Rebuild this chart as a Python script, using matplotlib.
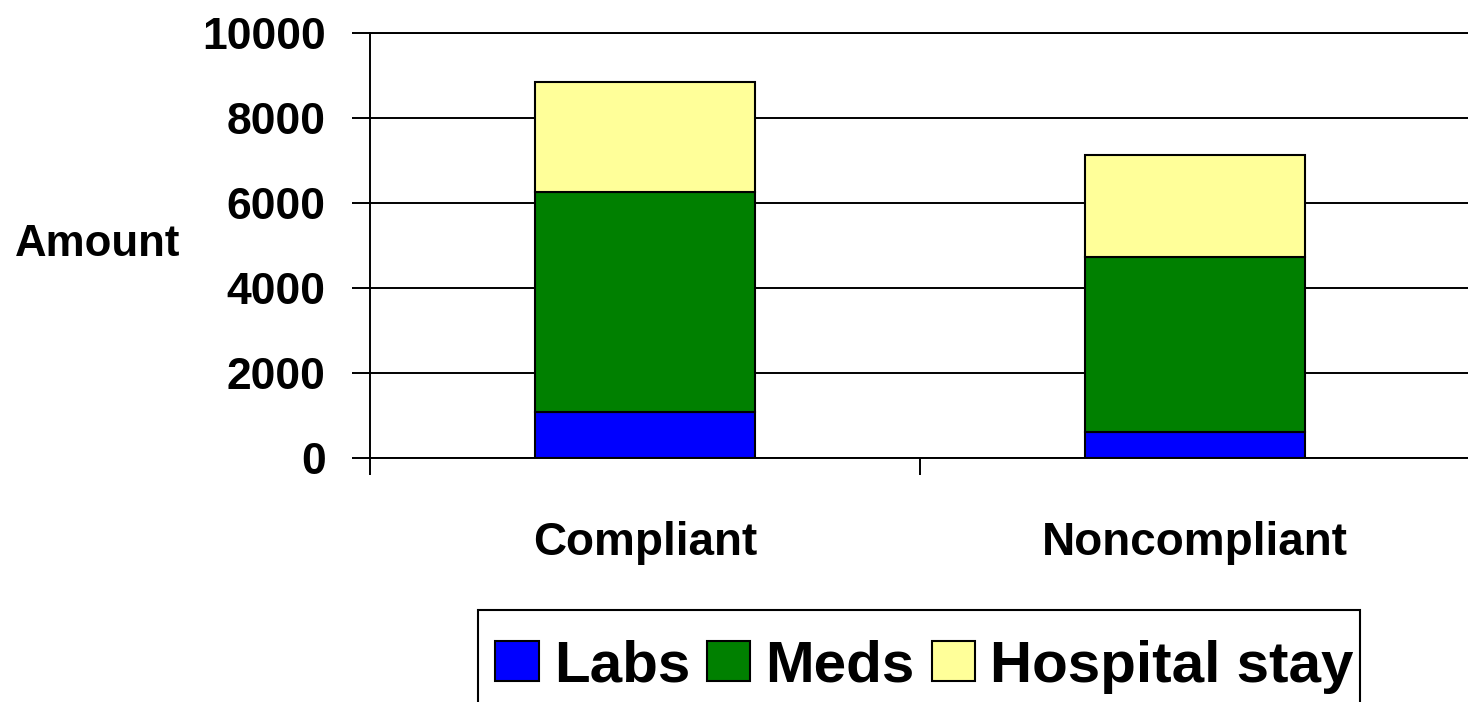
import matplotlib
matplotlib.use('Agg')
import matplotlib.pyplot as plt
from matplotlib.patches import Rectangle
from matplotlib.ticker import FixedLocator
import numpy as np

categories = ['Compliant', 'Noncompliant']
labs = [1100, 610]
meds = [5170, 4125]
hospital = [2570, 2385]
series_names = ['Labs', 'Meds', 'Hospital stay']
series_colors = ['#0000FF', '#008000', '#FFFF99']
yticks = [0, 2000, 4000, 6000, 8000, 10000]

plt.rcParams['font.family'] = ['Liberation Sans', 'DejaVu Sans']
plt.rcParams['font.weight'] = 'bold'

fig = plt.figure(figsize=(14.68, 7.02), dpi=100)
ax = fig.add_axes([370 / 1468, 1 - 458.3 / 702, 1100 / 1468, 425.3 / 702])

x = np.arange(len(categories))
bottom = np.zeros(len(categories))
for name, vals, col in zip(series_names, [labs, meds, hospital], series_colors):
    ax.bar(x, vals, width=0.4, bottom=bottom, color=col, edgecolor='black',
           linewidth=1.5, label=name, zorder=3)
    bottom += np.array(vals)

ax.set_xlim(-0.5, 1.5)
ax.set_ylim(0, 10000)
ax.set_yticks(yticks)
ax.set_yticklabels([str(v) for v in yticks], fontsize=32, fontweight='bold')
ax.tick_params(axis='y', direction='out', length=13, width=1.4, pad=19)
ax.yaxis.grid(True, color='black', linewidth=1.4, zorder=0)

ax.set_xticks(x)
ax.set_xticklabels(categories, fontsize=33, fontweight='bold')
ax.tick_params(axis='x', which='major', length=0, pad=45)
ax.xaxis.set_minor_locator(FixedLocator([-0.5, 0.5, 1.5]))
ax.tick_params(axis='x', which='minor', direction='out', length=12, width=1.4)

ax.spines['right'].set_visible(False)
for side in ['left', 'bottom', 'top']:
    ax.spines[side].set_linewidth(1.4)

ax.set_ylabel('Amount', rotation=0, ha='left', va='center', fontsize=31.5,
              fontweight='bold')
ax.yaxis.set_label_coords(-355 / 1100, 0.502)

# legend box runs off the bottom of the picture, so draw the frame separately
leg = fig.legend(loc='upper left', bbox_to_anchor=(478 / 1468, 1 - 622 / 702),
                 ncol=3, frameon=False, borderaxespad=0, borderpad=0.3,
                 handlelength=0.74, handleheight=0.69, handletextpad=0.26,
                 columnspacing=0.29, prop={'weight': 'bold', 'size': 42})
for h in leg.legend_handles:
    h.set_linewidth(1.5)
fig.patches.append(Rectangle((478 / 1468, 1 - 720 / 702), 882 / 1468, 110 / 702,
                             transform=fig.transFigure, fill=False,
                             edgecolor='black', linewidth=1.5))

fig.savefig('out.png', dpi=100)
